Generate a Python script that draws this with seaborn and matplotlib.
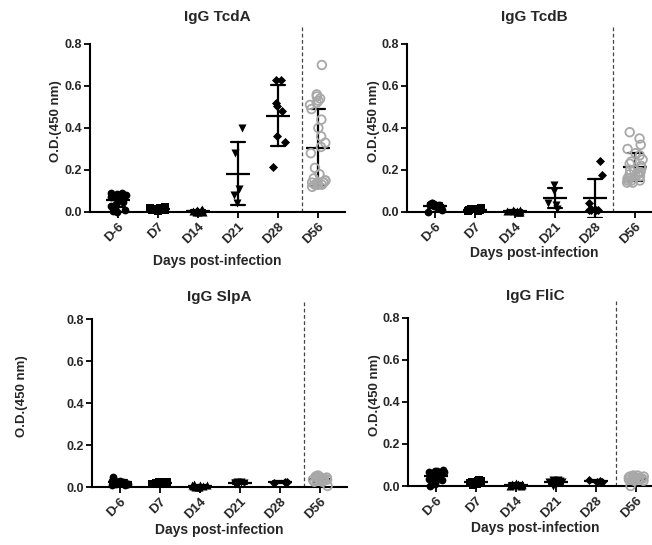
import numpy as np
import pandas as pd
import matplotlib
matplotlib.use("Agg")
import matplotlib.pyplot as plt
import seaborn as sns

days = ["D-6", "D7", "D14", "D21", "D28", "D56"]
titles = ["IgG TcdA", "IgG TcdB", "IgG SlpA", "IgG FliC"]

tcda = {
    "D-6": [0.09, 0.09, 0.085, 0.08, 0.08, 0.075, 0.075, 0.07, 0.07, 0.065, 0.06, 0.05, 0.04, 0.03, 0.02, 0.01, 0.005, 0.0],
    "D7": [0.025, 0.02, 0.02, 0.015, 0.015, 0.01, 0.01, 0.01, 0.005],
    "D14": [0.015, 0.01, 0.01, 0.005, 0.005, 0.005, 0.0, 0.0, 0.0],
    "D21": [0.40, 0.28, 0.11, 0.08, 0.045],
    "D28": [0.63, 0.63, 0.52, 0.505, 0.48, 0.36, 0.335, 0.215],
    "D56": [0.70, 0.56, 0.55, 0.54, 0.53, 0.52, 0.51, 0.49, 0.44, 0.40, 0.36, 0.33, 0.31, 0.28,
            0.21, 0.18, 0.16, 0.15, 0.15, 0.14, 0.14, 0.14, 0.14, 0.13, 0.13, 0.13, 0.13, 0.12],
}
tcdb = {
    "D-6": [0.045, 0.045, 0.04, 0.04, 0.04, 0.035, 0.035, 0.03, 0.03, 0.03, 0.025, 0.025, 0.02, 0.02, 0.01, 0.0],
    "D7": [0.02, 0.015, 0.015, 0.01, 0.01, 0.01, 0.005, 0.005],
    "D14": [0.01, 0.01, 0.005, 0.005, 0.0, 0.0, 0.0, 0.005],
    "D21": [0.13, 0.10, 0.045, 0.035, 0.015],
    "D28": [0.245, 0.175, 0.045, 0.015, 0.01, 0.01, 0.01, 0.01],
    "D56": [0.38, 0.35, 0.32, 0.30, 0.28, 0.27, 0.25, 0.24, 0.23, 0.22, 0.21, 0.20, 0.20,
            0.19, 0.19, 0.18, 0.18, 0.17, 0.17, 0.16, 0.16, 0.15, 0.15, 0.15, 0.14, 0.14],
}
slpa = {
    "D-6": [0.05, 0.035, 0.03, 0.03, 0.025, 0.025, 0.02, 0.02, 0.02, 0.015, 0.015, 0.015, 0.01, 0.01],
    "D7": [0.025, 0.025, 0.02, 0.02, 0.02, 0.02, 0.015, 0.015, 0.02],
    "D14": [0.015, 0.01, 0.01, 0.005, 0.005, 0.0, 0.0, 0.0, 0.01],
    "D21": [0.025, 0.025, 0.02, 0.02, 0.02, 0.02, 0.015, 0.015],
    "D28": [0.025, 0.025, 0.02],
    "D56": [0.055, 0.05, 0.05, 0.045, 0.045, 0.045, 0.04, 0.04, 0.04, 0.04, 0.035, 0.035,
            0.035, 0.035, 0.03, 0.03, 0.03, 0.025, 0.025, 0.005],
}
flic = {
    "D-6": [0.075, 0.07, 0.07, 0.065, 0.065, 0.06, 0.06, 0.055, 0.05, 0.05, 0.045, 0.04, 0.035, 0.03, 0.02, 0.01, 0.0],
    "D7": [0.03, 0.025, 0.025, 0.02, 0.02, 0.015, 0.015, 0.01, 0.005],
    "D14": [0.015, 0.01, 0.01, 0.01, 0.005, 0.005, 0.0, 0.0],
    "D21": [0.03, 0.03, 0.025, 0.025, 0.02, 0.02, 0.02, 0.015, 0.0],
    "D28": [0.03, 0.025, 0.02, 0.02],
    "D56": [0.05, 0.05, 0.045, 0.045, 0.04, 0.04, 0.04, 0.035, 0.035, 0.035, 0.035, 0.03,
            0.03, 0.03, 0.03, 0.025, 0.025, 0.0],
}
panels = [tcda, tcdb, slpa, flic]

rows = []
for title, data in zip(titles, panels):
    for d in days:
        for v in data[d]:
            rows.append({"antigen": title, "day": d, "od": v})
df = pd.DataFrame(rows)

sns.set_theme(style="ticks")
plt.rcParams["font.family"] = ["Liberation Sans", "DejaVu Sans"]
plt.rcParams["font.weight"] = "bold"
plt.rcParams["axes.labelweight"] = "bold"
plt.rcParams["axes.titleweight"] = "bold"

np.random.seed(7)

W, H = 652, 545
fig = plt.figure(figsize=(W / 100, H / 100), dpi=100)
# pixel rows of the y=0.8 and y=0 levels, and left edge of each panel
lefts = [90, 407, 92, 408]
y08 = [44, 44, 319, 318]
y00 = [212, 212, 487, 486]
ax_w = 255
ylo, yhi = -0.03, 0.9
title_base = [21, 21, 301, 300]
ylab_x = [-0.11, -0.106, -0.25, -0.106]
xlab_top = [254, 246, 522.7, 520.7]
sep_x = [4.6, 4.45, 4.6, 4.5]

markers = ["o", "s", "^", "v", "D", "o"]
sizes = [5.6, 5.2, 5.8, 5.8, 4.6, 6.2]
black = "#000000"
gray = "#a8a8a8"

for i, title in enumerate(titles):
    ppu = (y00[i] - y08[i]) / 0.8
    top = y08[i] - (yhi - 0.8) * ppu
    bot = y00[i] - ylo * ppu
    ax_h = bot - top
    ax = fig.add_axes([lefts[i] / W, 1 - bot / H, ax_w / W, ax_h / H])
    sub = df[df["antigen"] == title]
    sns.pointplot(data=sub, x="day", y="od", order=days, errorbar="sd",
                  color=black, marker="_", markersize=17, markeredgewidth=1.6,
                  linestyle="none", capsize=0.37, err_kws={"linewidth": 1.6},
                  ax=ax, zorder=2)
    for j, d in enumerate(days):
        sd = sub[sub["day"] == d]
        if d == "D56":
            sns.stripplot(data=sd, x="day", y="od", order=days, jitter=0.2,
                          marker=markers[j], size=sizes[j], color=gray,
                          facecolors="none", edgecolor=gray, linewidth=1.3,
                          ax=ax, zorder=3)
        else:
            sns.stripplot(data=sd, x="day", y="od", order=days, jitter=0.2,
                          marker=markers[j], size=sizes[j], color=black,
                          linewidth=0, ax=ax, zorder=3)
    ax.vlines(sep_x[i], 0, 0.89, colors="#444444", linestyles=(0, (3, 2)),
              linewidth=0.9)
    for s in ["top", "right"]:
        ax.spines[s].set_visible(False)
    for s in ["left", "bottom"]:
        ax.spines[s].set_linewidth(1.5)
        ax.spines[s].set_color("black")
    ax.spines["bottom"].set_position(("data", 0))
    ax.spines["left"].set_bounds(0, 0.8)
    ax.set_xlim(-0.7, 5.675)
    ax.set_ylim(ylo, yhi)
    ax.set_yticks([0.0, 0.2, 0.4, 0.6, 0.8])
    ax.set_yticklabels(["0.0", "0.2", "0.4", "0.6", "0.8"], fontsize=9, fontweight="bold")
    ax.set_xticks(range(len(days)))
    ax.set_xticklabels(days, rotation=45, ha="right", rotation_mode="anchor",
                       fontsize=9.5, fontweight="bold")
    ax.tick_params(axis="both", direction="out", length=4, width=1.3, color="black", pad=2)
    ax.set_title(title, fontsize=11, fontweight="bold", pad=0,
                 y=(bot - title_base[i]) / ax_h)
    ax.set_ylabel("O.D.(450 nm)", fontsize=9.5, fontweight="bold")
    ax.set_xlabel("Days post-infection", fontsize=10, fontweight="bold")
    ax.yaxis.set_label_coords(ylab_x[i], 0.5)
    ax.xaxis.set_label_coords(0.5, -(xlab_top[i] - bot) / ax_h)

fig.savefig("out.png", dpi=100)
